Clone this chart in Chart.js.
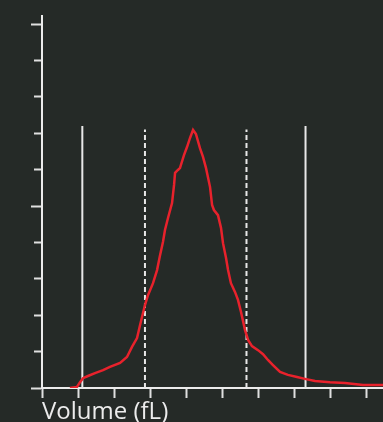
<!DOCTYPE html>
<html>
<head>
<meta charset="utf-8">
<script src="https://cdn.jsdelivr.net/npm/chart.js@4.4.0/dist/chart.umd.min.js"></script>
<style>
  html, body { margin: 0; padding: 0; background: #252a27; }
  canvas { display: block; }
</style>
</head>
<body>
<canvas id="c" width="383" height="422"></canvas>
<script>
// volume in fL, count in relative units (0-100)
var volume = [19.4, 24.3, 26.4, 28.5, 31.9, 36.8, 42.4, 47.2, 54.2, 59.0, 62.5, 66.0, 68.1, 71.5, 73.6, 77.1,
  79.9, 81.9, 84.0, 85.4, 87.5, 90.3, 91.7, 92.4, 94.4, 95.8, 98.6, 100.7, 102.8, 104.9, 106.9, 109.7,
  111.8, 113.9, 116.7, 118.1, 119.4, 122.2, 124.3, 125.7, 127.8, 129.2, 131.2, 134.0, 136.1, 138.2,
  141.0, 143.1, 145.8, 150.0, 153.5, 156.9, 160.4, 165.3, 170.8, 177.1, 182.6, 189.6, 200.0, 210.4,
  222.9, 236.8];
var counts = [0, 0.3, 1.6, 2.7, 3.3, 4.1, 4.9, 5.8, 6.9, 8.5, 11.3, 13.7, 17.3, 22.8, 25.5, 28.8,
  32.4, 36.3, 40.1, 43.4, 46.7, 50.8, 55.8, 59.1, 59.9, 60.4, 64.0, 66.2, 68.7, 70.9, 69.8, 65.9,
  63.5, 60.4, 55.2, 50.3, 48.9, 47.5, 44.0, 39.8, 35.7, 32.4, 28.8, 26.4, 24.2, 20.9,
  15.9, 13.2, 11.5, 10.4, 9.3, 7.7, 6.3, 4.4, 3.6, 3.0, 2.5, 1.9, 1.6, 1.4,
  0.8, 0.8];

// discriminator lines: [volume, height]
var solidLines = [[28, 72], [183, 72]];
var dashedLines = [[71.5, 71], [142, 71]];

var xMax = 236.8, xStep = 25;
var yMax = 102.2, yStep = 10;

var curve = volume.map(function (v, i) { return { x: v, y: counts[i] }; });

function vline(l, dashed) {
  return {
    data: [{ x: l[0], y: 0 }, { x: l[0], y: l[1] }],
    borderColor: '#e8e8e8',
    borderWidth: 2,
    borderDash: dashed ? [5, 3] : [],
    pointRadius: 0,
    order: 2
  };
}

var datasets = [{
  data: curve,
  borderColor: '#e8222c',
  borderWidth: 2.5,
  pointRadius: 0,
  tension: 0,
  order: 0
}];
solidLines.forEach(function (l) { datasets.push(vline(l, false)); });
dashedLines.forEach(function (l) { datasets.push(vline(l, true)); });

new Chart(document.getElementById('c').getContext('2d'), {
  type: 'line',
  data: { datasets: datasets },
  options: {
    responsive: false,
    animation: false,
    layout: { padding: { top: 16, right: 0, left: 0, bottom: 0 } },
    plugins: { legend: { display: false }, tooltip: { enabled: false } },
    scales: {
      x: {
        type: 'linear',
        min: 0,
        max: xMax,
        afterFit: function (s) { s.height = 34; },
        border: { display: true, color: '#ececec', width: 2 },
        grid: { drawOnChartArea: false, drawTicks: true, tickLength: 10, tickColor: '#e0e0e0', tickWidth: 2 },
        ticks: { display: false, stepSize: xStep, includeBounds: false },
        title: {
          display: true,
          text: 'Volume (fL)',
          align: 'start',
          color: '#ececec',
          font: { family: 'Open Sans', size: 24, lineHeight: 1 },
          padding: { top: 0, bottom: -2 }
        }
      },
      y: {
        type: 'linear',
        min: 0,
        max: yMax,
        afterFit: function (s) { s.width = 42; },
        border: { display: true, color: '#ececec', width: 2 },
        grid: {
          drawOnChartArea: false,
          drawTicks: true,
          tickLength: 11,
          tickColor: '#e0e0e0',
          tickWidth: 2,
          tickBorderDash: function (ctx) {
            return (ctx.tick && ctx.tick.value % 50 === 0) ? [] : [0, 3, 8, 100];
          }
        },
        ticks: { display: false, stepSize: yStep, includeBounds: false }
      }
    }
  }
});
</script>
</body>
</html>
